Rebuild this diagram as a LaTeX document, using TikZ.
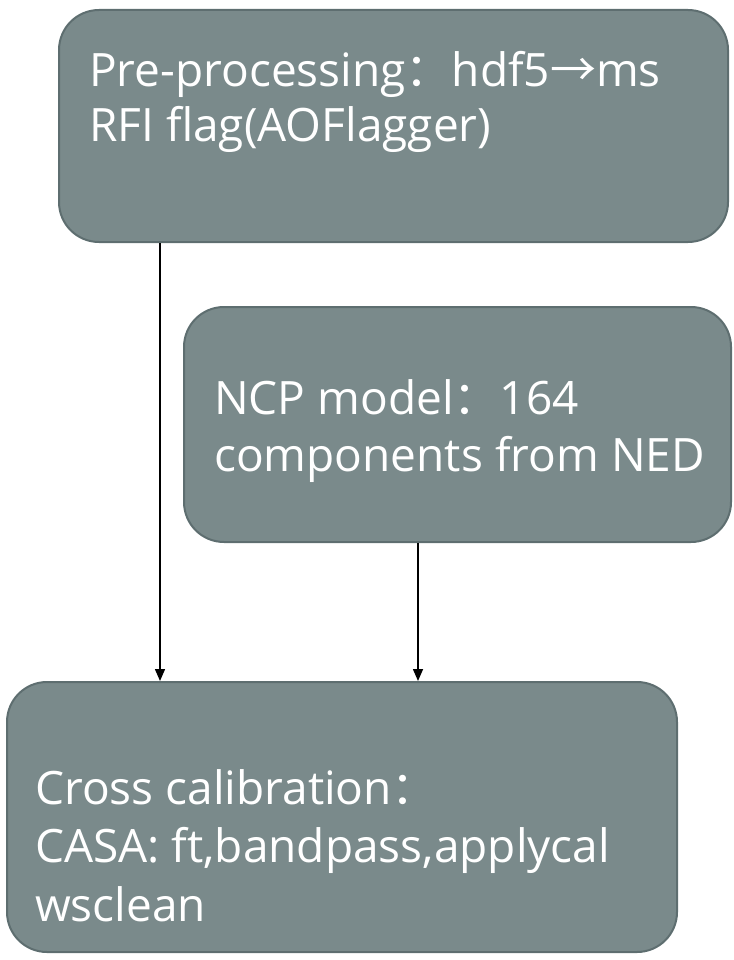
\documentclass[tikz,border=0pt]{standalone}
\usepackage{fontspec}
\setmainfont{Open Sans}
\newfontfamily\cjk{Noto Sans CJK SC}
\usetikzlibrary{arrows.meta}
\definecolor{boxfill}{RGB}{122,138,139}
\definecolor{boxline}{RGB}{94,110,112}
\newcommand{\fwcolon}{{\cjk ：}}
\begin{document}
\begin{tikzpicture}[x=1pt,y=-1pt,
	stepbox/.style={draw=boxline, line width=2pt, fill=boxfill, rounded corners=40pt, inner sep=0pt},
	boxtext/.style={text=white, anchor=north west, align=left, inner sep=0pt, font=\fontsize{46}{57}\selectfont},
	flow/.style={-{Triangle[length=12pt,width=10pt]}, line width=1.5pt}]
	\useasboundingbox (0,0) rectangle (733,960);
	% boxes
	\node[stepbox, minimum width=669pt, minimum height=232pt] (pre) at (393.5,126) {};
	\node[stepbox, minimum width=547pt, minimum height=235pt] (ncp) at (457.5,424.5) {};
	\node[stepbox, minimum width=670pt, minimum height=270pt] (cross) at (342,817) {};
	% texts
	\node[boxtext, font=\fontsize{46}{55}\selectfont] (pretxt) at ([shift={(31,42)}]pre.north west)
		{Pre-processing\fwcolon hdf5{\cjk →}ms\\RFI flag(AOFlagger)};
	\node[boxtext] (ncptxt) at ([shift={(31,73)}]ncp.north west)
		{NCP model\fwcolon 164\\components from NED};
	\node[boxtext, font=\fontsize{46}{58.5}\selectfont] (crosstxt) at ([shift={(29,88)}]cross.north west)
		{Cross calibration\fwcolon\\CASA: ft,bandpass,applycal\\wsclean};
	% arrows
	\coordinate (a1) at (160,0);
	\coordinate (a2) at (418,0);
	\draw[flow] (pre.south -| a1) -- (cross.north -| a1);
	\draw[flow] (ncp.south -| a2) -- (cross.north -| a2);
\end{tikzpicture}
\end{document}
